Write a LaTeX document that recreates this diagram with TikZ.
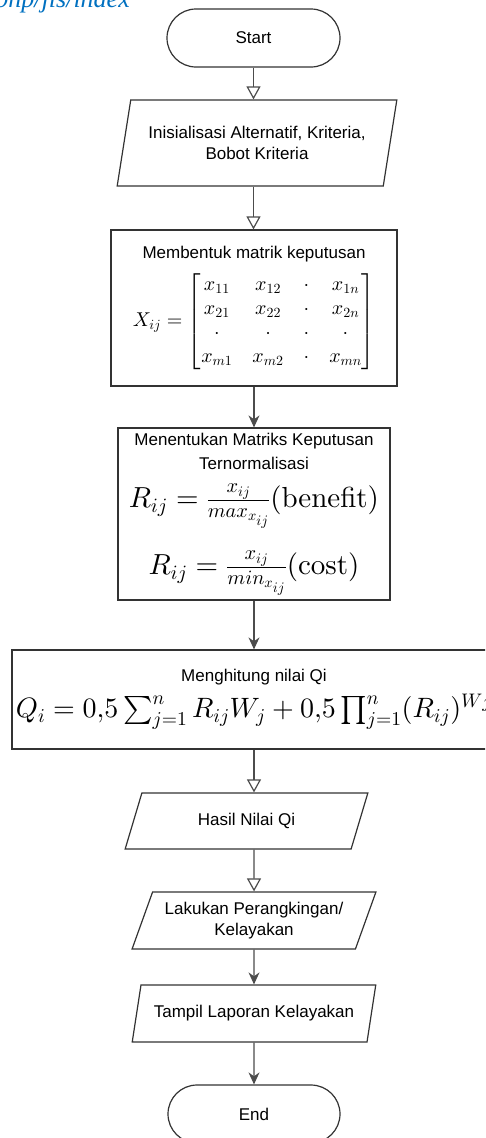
\documentclass[tikz,border=0pt]{standalone}
\usepackage{amsmath}
\usepackage[no-math]{fontspec}
\setmainfont{Liberation Sans}
\newfontfamily\webfont{Liberation Serif}
\usetikzlibrary{arrows.meta,shapes.geometric}
\definecolor{weblink}{RGB}{0,112,192}
% scalable math fonts for the large formulas
\DeclareFontShape{OML}{cmm}{m}{it}{<->cmmi10}{}
\DeclareFontShape{OMS}{cmsy}{m}{n}{<->cmsy10}{}
\DeclareFontShape{OMX}{cmex}{m}{n}{<->cmex10}{}
\DeclareFontShape{OT1}{cmr}{m}{n}{<->cmr10}{}

\begin{document}
\begin{tikzpicture}[x=1pt, y=-1pt, font=\fontsize{17}{21}\selectfont,
  outline/.style={draw=black!80, line width=1.2pt, fill=white},
  term/.style={outline, rounded corners=29pt, minimum width=173pt, minimum height=58pt, inner sep=0pt},
  proc/.style={outline, align=center, inner sep=0pt},
  io/.style={outline, trapezium, trapezium stretches=true, align=center, inner sep=0pt},
  opn/.style={-{Triangle[open, length=13pt, width=14pt]}, draw=black!70, line width=1.2pt},
  fil/.style={-{Stealth[length=12pt, width=11pt]}, draw=black!70, line width=1.2pt}]
\path[clip] (0,0) rectangle (485,1138);
\useasboundingbox (0,0) rectangle (485,1138);
% cut-off source line at the top
\node[anchor=base east, inner sep=0pt, text=weblink, font=\fontsize{26}{28}\webfont\itshape] (src) at (130,7) {php/jis/index};
% start and first input
\node[term] (start) at (253.5,38) {Start};
\node[io, trapezium left angle=70.8, trapezium right angle=109.2, minimum width=280pt, minimum height=86pt] (init) at (257,143) {Inisialisasi Alternatif, Kriteria,\\Bobot Kriteria};
% decision matrix
\node[proc, minimum width=286pt, minimum height=156pt] (matrix) at (254,308) {Membentuk matrik keputusan\\[10pt]
  {\fontsize{20}{24}\selectfont\setlength{\arraycolsep}{10pt}\renewcommand{\arraystretch}{1.0}$X_{ij}=\begin{bmatrix} x_{11} & x_{12} & \cdot & x_{1n}\\ x_{21} & x_{22} & \cdot & x_{2n}\\ \cdot & \cdot & \cdot & \cdot\\ x_{m1} & x_{m2} & \cdot & x_{mn}\end{bmatrix}$}};
% normalisation
\node[proc, minimum width=272pt, minimum height=172pt] (norm) at (254,514) {Menentukan Matriks Keputusan\\[3pt]Ternormalisasi\\[14pt]
  {\fontsize{29}{32}\selectfont$R_{ij}=\frac{x_{ij}}{max_{x_{ij}}}(\mathrm{benefit})$}\\[22pt]
  {\fontsize{29}{32}\selectfont$R_{ij}=\frac{x_{ij}}{min_{x_{ij}}}(\mathrm{cost})$}};
% Qi value
\node[proc, minimum width=484pt, minimum height=99pt] (qi) at (254,699.5) {Menghitung nilai Qi\\[8pt]
  {\fontsize{28}{32}\selectfont$Q_i=0{,}5\sum_{j=1}^{n}R_{ij}W_j+0{,}5\prod_{j=1}^{n}(R_{ij})^{Wj}$}};
% outputs
\node[io, trapezium left angle=63.4, trapezium right angle=116.6, minimum width=243pt, minimum height=56pt] (hasil) at (246.5,821) {Hasil Nilai Qi};
\node[io, trapezium left angle=63.9, trapezium right angle=116.1, minimum width=244pt, minimum height=57pt] (rank) at (254,920.5) {Lakukan Perangkingan/\\Kelayakan};
\node[io, trapezium left angle=63.9, trapezium right angle=116.1, minimum width=244pt, minimum height=57pt] (tampil) at (254,1013.5) {Tampil Laporan Kelayakan};
\node[term, minimum width=172pt] (finish) at (254,1114) {End};
% connectors
\draw[opn] (start) -- (start |- init.north);
\draw[opn] (init.south -| start) -- (start |- matrix.north);
\draw[fil] (matrix) -- (norm);
\draw[fil] (norm) -- (qi);
\draw[opn] (qi.south -| rank) -- (rank |- hasil.north);
\draw[opn] (hasil.south -| rank) -- (rank);
\draw[fil] (rank) -- (tampil);
\draw[fil] (tampil) -- (finish);
\end{tikzpicture}
\end{document}
